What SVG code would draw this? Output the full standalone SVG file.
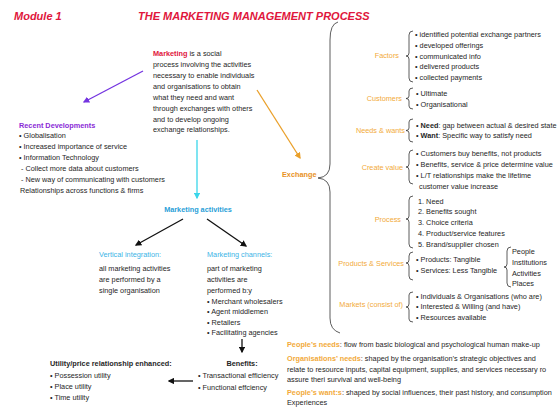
<svg xmlns="http://www.w3.org/2000/svg" width="560" height="414" viewBox="0 0 560 414">
<defs>
<style>
text{font-family:"Liberation Sans",Arial,sans-serif;font-size:7.3px;fill:#262626}
.title{font-size:11px;font-weight:bold;font-style:italic;fill:#e0163c}
.red{fill:#e0163c;font-weight:bold}
.org{fill:#f2aa3a}
.exch{fill:#e8921e;font-weight:bold}
.pur{fill:#8a2ad6;font-weight:bold}
.cyb{fill:#2a9fd8;font-weight:bold}
.cy{fill:#3cb4e6}
.bd{font-weight:bold}
.r{text-anchor:end}
.m{text-anchor:middle}
.br{fill:none;stroke:#333;stroke-width:0.8}
.ln{fill:none;stroke-width:1.3}
</style>
<marker id="ap" viewBox="0 0 10 10" refX="8" refY="5" markerWidth="5" markerHeight="5" orient="auto"><path d="M0,0L10,5L0,10z" fill="#7434e0"/></marker>
<marker id="ao" viewBox="0 0 10 10" refX="8" refY="5" markerWidth="5" markerHeight="5" orient="auto"><path d="M0,0L10,5L0,10z" fill="#eaa02a"/></marker>
<marker id="ac" viewBox="0 0 10 10" refX="8" refY="5" markerWidth="5" markerHeight="5" orient="auto"><path d="M0,0L10,5L0,10z" fill="#3ad6ea"/></marker>
<marker id="ak" viewBox="0 0 10 10" refX="8" refY="5" markerWidth="5" markerHeight="5" orient="auto"><path d="M0,0L10,5L0,10z" fill="#111"/></marker>
</defs>
<rect width="560" height="414" fill="#fff"/>

<g id="title">
<text class="title" x="14" y="20">Module 1</text>
<text class="title" x="138" y="20">THE MARKETING MANAGEMENT PROCESS</text>
</g>

<g id="connectors">
<line class="ln" x1="143" y1="71" x2="84" y2="102" stroke="#7434e0" marker-end="url(#ap)"/>
<line class="ln" x1="257" y1="90" x2="300" y2="158" stroke="#eaa02a" marker-end="url(#ao)"/>
<line class="ln" x1="197" y1="140" x2="197" y2="198" stroke="#3ad6ea" marker-end="url(#ac)"/>
<line class="ln" x1="183" y1="219" x2="136" y2="245" stroke="#111" stroke-width="1" marker-end="url(#ak)"/>
<line class="ln" x1="207" y1="219" x2="246" y2="246" stroke="#111" stroke-width="1" marker-end="url(#ak)"/>
<line class="ln" x1="242" y1="339" x2="242" y2="352" stroke="#111" stroke-width="1" marker-end="url(#ak)"/>
<line class="ln" x1="193" y1="381" x2="169" y2="381" stroke="#111" stroke-width="1" marker-end="url(#ak)"/>
<path class="br" d="M338,22 Q330,24 330,40 L330,164 Q330,177 318,178 Q330,179 330,192 L330,318 Q330,330 340,333" stroke-width="1"/>
</g>

<g id="definition">
<text x="153" y="56"><tspan class="red">Marketing</tspan> is a social</text>
<text x="153" y="67">process involving the activities</text>
<text x="153" y="78">necessary to enable individuals</text>
<text x="153" y="89">and organisations to obtain</text>
<text x="153" y="100">what they need and want</text>
<text x="153" y="111">through exchanges with others</text>
<text x="153" y="121.5">and to develop ongoing</text>
<text x="153" y="132">exchange relationships.</text>
</g>

<g id="recent">
<text class="pur" x="19" y="128">Recent  Developments</text>
<text x="19" y="138">• Globalisation</text>
<text x="19" y="149">• Increased importance of service</text>
<text x="19" y="160">• Information Technology</text>
<text x="21" y="171">- Collect more data about customers</text>
<text x="21" y="182">- New way of communicating with customers</text>
<text x="20" y="193">Relationships across functions &amp; firms</text>
</g>

<g id="activities">
<text class="cyb m" x="198" y="212">Marketing activities</text>
</g>

<g id="vertical">
<text class="cy" x="99" y="257">Vertical integration:</text>
<text x="99" y="271">all marketing activities</text>
<text x="99" y="282">are performed by a</text>
<text x="99" y="293">single organisation</text>
</g>

<g id="channels">
<text class="cy" x="207" y="257">Marketing channels:</text>
<text x="207" y="271">part of marketing</text>
<text x="207" y="282">activities are</text>
<text x="207" y="293">performed b:y</text>
<text x="207" y="303.5">• Merchant wholesalers</text>
<text x="207" y="314">• Agent middlemen</text>
<text x="207" y="324.5">• Retailers</text>
<text x="207" y="335">• Facilitating agencies</text>
</g>

<g id="benefits">
<text class="bd m" x="242" y="366">Benefits:</text>
<text x="198" y="378">• Transactional efficiency</text>
<text x="198" y="390">• Functional effciency</text>
</g>

<g id="utility">
<text class="bd" x="50" y="366">Utility/price relationship enhanced:</text>
<text x="50" y="378">• Possession utility</text>
<text x="50" y="389">• Place utility</text>
<text x="50" y="400">• Time utility</text>
</g>

<g id="exchange">
<text class="exch" x="282" y="177">Exchange</text>
</g>

<g id="factors">
<text class="org r" x="399" y="58">Factors</text>
<path class="br" d="M413,31 Q409,31 409,35 L409,53 Q409,56 406,56 Q409,56 409,59 L409,78 Q409,82 413,82"/>
<text x="415" y="37">• identified potential exchange partners</text>
<text x="415" y="47.8">• developed offerings</text>
<text x="415" y="58.6">• communicated info</text>
<text x="415" y="69.4">• delivered products</text>
<text x="415" y="80.2">• collected payments</text>
</g>

<g id="customers">
<text class="org r" x="402" y="101">Customers</text>
<path class="br" d="M413,88 Q409,88 409,91 L409,96 Q409,98.5 406,98.5 Q409,98.5 409,101 L409,106 Q409,109 413,109"/>
<text x="416" y="96">• Ultimate</text>
<text x="416" y="107">• Organisational</text>
</g>

<g id="needs">
<text class="org r" x="405" y="133">Needs &amp; wants</text>
<path class="br" d="M413,119 Q409,119 409,122 L409,128 Q409,130.5 406,130.5 Q409,130.5 409,133 L409,139 Q409,142 413,142"/>
<text x="416" y="128">• <tspan class="bd">Need</tspan>: gap between actual &amp; desired state</text>
<text x="416" y="138">• <tspan class="bd">Want</tspan>: Specific way to satisfy need</text>
</g>

<g id="value">
<text class="org r" x="403" y="170">Create value</text>
<path class="br" d="M413,150 Q409,150 409,154 L409,164 Q409,167 406,167 Q409,167 409,170 L409,180 Q409,184 413,184"/>
<text x="416" y="156">• Customers buy benefits, not products</text>
<text x="416" y="167">• Benefits, service &amp; price determine value</text>
<text x="416" y="178">• L/T relationships make the lifetime</text>
<text x="419" y="189">customer value increase</text>
</g>

<g id="process">
<text class="org r" x="401" y="222">Process</text>
<path class="br" d="M413,196 Q409,196 409,200 L409,216 Q409,219 406,219 Q409,219 409,222 L409,244 Q409,248 413,248"/>
<text x="418" y="203.5">1. Need</text>
<text x="418" y="214">2. Benefits sought</text>
<text x="418" y="225">3. Choice criteria</text>
<text x="418" y="236">4. Product/service features</text>
<text x="418" y="247">5. Brand/supplier chosen</text>
</g>

<g id="products">
<text class="org r" x="404" y="266">Products &amp; Services</text>
<path class="br" d="M413,252 Q409,252 409,256 L409,260 Q409,263 406,263 Q409,263 409,266 L409,276 Q409,280 413,280"/>
<text x="416" y="262">• Products: Tangible</text>
<text x="416" y="273">• Services: Less Tangible</text>
<path class="br" d="M511,247 Q507,247 507,251 L507,264 Q507,267 504,267 Q507,267 507,270 L507,283 Q507,287 511,287"/>
<text x="512" y="254">People</text>
<text x="512" y="265">Institutions</text>
<text x="512" y="276">Activities</text>
<text x="512" y="286">Places</text>
</g>

<g id="markets">
<text class="org r" x="403" y="307">Markets (consist of)</text>
<path class="br" d="M413,292 Q409,292 409,295 L409,304 Q409,307 406,307 Q409,307 409,310 L409,319 Q409,322 413,322"/>
<text x="416" y="299">• Individuals &amp; Organisations (who are)</text>
<text x="416" y="309">• Interested &amp; Willing (and have)</text>
<text x="416" y="320">• Resources available</text>
</g>

<g id="notes">
<text x="287" y="347"><tspan class="org bd">People’s needs</tspan>: flow from basic biological and psychological human make-up</text>
<text x="287" y="361"><tspan class="org bd">Organisations’ needs</tspan>: shaped by the organisation’s strategic objectives and</text>
<text x="287" y="372">relate to resource inputs, capital equipment, supplies, and services necessary ro</text>
<text x="287" y="382">assure theri survival and well-being</text>
<text x="287" y="395"><tspan class="org bd">People’s want:s</tspan>: shaped by social influences, their past history, and consumption</text>
<text x="287" y="405">Experiences</text>
</g>
</svg>
